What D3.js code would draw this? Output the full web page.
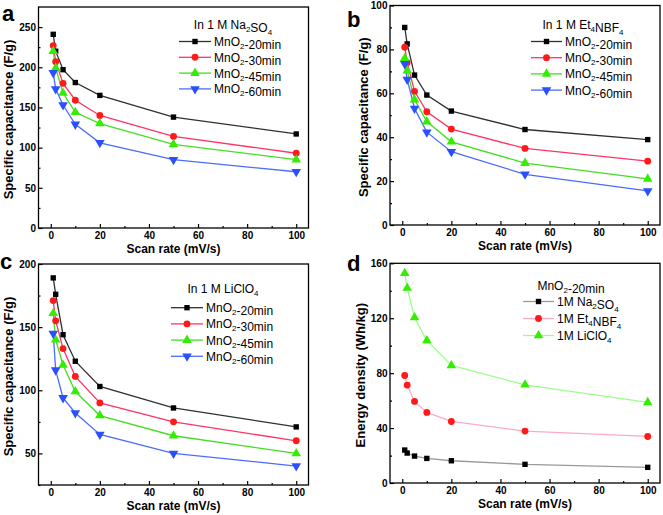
<!DOCTYPE html>
<html>
<head>
<meta charset="utf-8">
<script src="https://cdn.jsdelivr.net/npm/d3@7"></script>
<style>
  html, body { margin: 0; padding: 0; background: #fff; }
  svg { display: block; }
  text { font-family: "Liberation Sans", Arial, sans-serif; }
</style>
</head>
<body>
<svg id="chart" width="663" height="515"></svg>
<script>
// ---------------- DATA ----------------
const scanRates = [1, 2, 5, 10, 20, 50, 100];
const xTicks = [0, 20, 40, 60, 80, 100];
const sampleNames = ["MnO_2-20min", "MnO_2-30min", "MnO_2-45min", "MnO_2-60min"];

// (a) 1 M Na2SO4, specific capacitance (F/g)
const naso4_20 = [241, 220, 197, 181, 165, 138, 117];
const naso4_30 = [227, 207, 180, 159, 140, 114, 93];
const naso4_45 = [220, 199, 168, 144, 130, 104, 85];
const naso4_60 = [193, 173, 153, 129, 106, 85, 70];
const yTicksA = [0, 50, 100, 150, 200, 250];

// (b) 1 M Et4NBF4, specific capacitance (F/g)
const et4_20 = [90, 82.5, 68.3, 59.2, 51.9, 43.5, 38.9];
const et4_30 = [81, 74, 60.9, 51.6, 43.7, 34.9, 29.1];
const et4_45 = [76, 70.3, 57.1, 47.1, 37.9, 28.2, 21];
const et4_60 = [73.4, 66.3, 53.1, 42.3, 33.4, 23.1, 15.5];
const yTicksB = [0, 20, 40, 60, 80, 100];

// (c) 1 M LiClO4, specific capacitance (F/g)
const liclo4_20 = [189, 176, 144, 123, 103, 86, 71];
const liclo4_30 = [171, 155, 133, 111, 90, 75, 60];
const liclo4_45 = [161, 140, 120, 99, 80, 64, 50];
const liclo4_60 = [145, 116, 94, 82, 65, 50, 40];
const yTicksC = [50, 100, 150, 200];

// (d) MnO2-20min, energy density (Wh/kg)
const electrolyteNames = ["1M Na_2SO_4", "1M Et_4NBF_4", "1M LiClO_4"];
const energyNa = [24, 21.8, 19.6, 17.9, 16.2, 13.6, 11.4];
const energyEt = [78.3, 71.3, 59.4, 51.4, 44.8, 37.8, 33.9];
const energyLi = [152.7, 142, 120.5, 103.8, 85.6, 71.5, 58.7];
const yTicksD = [0, 40, 80, 120, 160];

// ---------------- STYLES ----------------
const markerColors = ["#000000", "#ff1a1a", "#33ee00", "#2a4fff"];
const lineColorsABC = ["#303030", "#ff3366", "#44dd22", "#4a6cff"];
const lineColorsD = ["#999999", "#ffa8c8", "#99ff88"];
const markerTypes = ["square", "circle", "triangle", "tridown"];

const svg = d3.select("#chart");

function addRich(textSel, str, subSize) {
  // "_x" => subscript char x
  let i = 0;
  let buf = "";
  const flush = () => { if (buf) { textSel.append("tspan").text(buf); buf = ""; } };
  while (i < str.length) {
    if (str[i] === "_" && i + 1 < str.length) {
      flush();
      textSel.append("tspan").attr("font-size", subSize).attr("dy", 3).text(str[i + 1]);
      textSel.append("tspan").attr("dy", -3).text("");
      i += 2;
    } else { buf += str[i]; i++; }
  }
  flush();
}

function drawMarker(g, type, cx, cy, color) {
  let sym, size, rot = 0;
  if (type === "square") { sym = d3.symbolSquare; size = 29; }
  else if (type === "circle") { sym = d3.symbolCircle; size = 37; }
  else if (type === "triangle") { sym = d3.symbolTriangle; size = 40; }
  else { sym = d3.symbolTriangle; size = 40; rot = 180; }
  g.append("path")
    .attr("d", d3.symbol().type(sym).size(size)())
    .attr("transform", `translate(${cx},${cy}) rotate(${rot})`)
    .attr("fill", color);
}

function panel(cfg) {
  const g = svg.append("g");
  const x = d3.scaleLinear().domain([-5, 105]).range([cfg.x0, cfg.x1]);
  const y = d3.scaleLinear().domain(cfg.yDomain).range([cfg.y1, cfg.y0]);

  // minor ticks
  const xMinor = d3.range(10, 100, 20);
  const yMinor = cfg.yMinor;
  g.append("g").attr("transform", `translate(0,${cfg.y1})`)
    .call(d3.axisBottom(x).tickValues(xMinor).tickSize(-2).tickSizeOuter(0).tickFormat(""))
    .call(s => s.select(".domain").remove())
    .call(s => s.selectAll("line").attr("stroke-width", 1.2));
  g.append("g").attr("transform", `translate(${cfg.x0},0)`)
    .call(d3.axisLeft(y).tickValues(yMinor).tickSize(-2).tickSizeOuter(0).tickFormat(""))
    .call(s => s.select(".domain").remove())
    .call(s => s.selectAll("line").attr("stroke-width", 1.2));

  // major ticks
  g.append("g").attr("transform", `translate(0,${cfg.y1})`)
    .call(d3.axisBottom(x).tickValues(xTicks).tickSize(-4).tickSizeOuter(0).tickPadding(3.5).tickFormat(d3.format("d")))
    .call(s => s.select(".domain").remove())
    .call(s => s.selectAll("line").attr("stroke-width", 1.2))
    .call(s => s.selectAll("text").attr("font-size", 10).attr("font-weight", "bold")
      .attr("font-family", '"Liberation Sans", Arial, sans-serif').attr("fill", "#000"));
  g.append("g").attr("transform", `translate(${cfg.x0},0)`)
    .call(d3.axisLeft(y).tickValues(cfg.yTicks).tickSize(-4).tickSizeOuter(0).tickPadding(2.5).tickFormat(d3.format("d")))
    .call(s => s.select(".domain").remove())
    .call(s => s.selectAll("line").attr("stroke-width", 1.2))
    .call(s => s.selectAll("text").attr("font-size", 10).attr("font-weight", "bold")
      .attr("font-family", '"Liberation Sans", Arial, sans-serif').attr("fill", "#000"));

  // frame
  g.append("rect")
    .attr("x", cfg.x0).attr("y", cfg.y0)
    .attr("width", cfg.x1 - cfg.x0).attr("height", cfg.y1 - cfg.y0)
    .attr("fill", "none").attr("stroke", "#000").attr("stroke-width", 1.3);

  // series
  const line = d3.line().x((d, i) => x(scanRates[i])).y(d => y(d));
  cfg.series.forEach((vals, k) => {
    g.append("path").datum(vals).attr("d", line)
      .attr("fill", "none").attr("stroke", cfg.lineColors[k]).attr("stroke-width", 1.3);
  });
  cfg.series.forEach((vals, k) => {
    vals.forEach((v, i) => drawMarker(g, markerTypes[k], x(scanRates[i]), y(v), markerColors[k]));
  });

  // axis labels
  g.append("text").attr("x", (cfg.x0 + cfg.x1) / 2).attr("y", cfg.y1 + 25)
    .attr("text-anchor", "middle").attr("font-size", 12).attr("font-weight", "bold")
    .text("Scan rate (mV/s)");
  g.append("text")
    .attr("transform", `translate(${cfg.yLabelX},${(cfg.y0 + cfg.y1) / 2 + 2}) rotate(-90)`)
    .attr("text-anchor", "middle").attr("font-size", 13).attr("font-weight", "bold")
    .text(cfg.yLabel);

  // panel letter
  g.append("text").attr("x", cfg.letterX).attr("y", cfg.letterY)
    .attr("font-size", 22).attr("font-weight", "bold").text(cfg.letter);

  // legend
  const L = cfg.legend;
  const title = g.append("text").attr("x", L.titleX).attr("y", L.titleY)
    .attr("text-anchor", "middle").attr("font-size", 12);
  addRich(title, L.title, 8);
  cfg.names.forEach((nm, k) => {
    const ly = L.rowY + k * L.rowStep;
    g.append("line").attr("x1", L.lineX0).attr("x2", L.lineX1).attr("y1", ly).attr("y2", ly)
      .attr("stroke", cfg.lineColors[k]).attr("stroke-width", 1.3);
    drawMarker(g, markerTypes[k], (L.lineX0 + L.lineX1) / 2, ly, markerColors[k]);
    const t = g.append("text").attr("x", L.lineX1 + 3).attr("y", ly + 4.5).attr("font-size", 12);
    addRich(t, nm, 8);
  });
}

panel({
  letter: "a", letterX: 2, letterY: 21,
  x0: 38.5, x1: 308.5, y0: 7, y1: 228,
  yDomain: [0, 275], yTicks: yTicksA, yMinor: d3.range(25, 275, 50),
  yLabel: "Specific capacitance (F/g)", yLabelX: 12.5,
  series: [naso4_20, naso4_30, naso4_45, naso4_60], names: sampleNames, lineColors: lineColorsABC,
  legend: { title: "In 1 M Na_2SO_4", titleX: 233, titleY: 28.5, rowY: 41.5, rowStep: 15.8, lineX0: 179, lineX1: 211 }
});

panel({
  letter: "b", letterX: 347, letterY: 27,
  x0: 390, x1: 660, y0: 5.5, y1: 225,
  yDomain: [0, 100], yTicks: yTicksB, yMinor: d3.range(10, 100, 20),
  yLabel: "Specific capacitance (F/g)", yLabelX: 367.5,
  series: [et4_20, et4_30, et4_45, et4_60], names: sampleNames, lineColors: lineColorsABC,
  legend: { title: "In 1 M Et_4NBF_4", titleX: 583, titleY: 28.5, rowY: 41.5, rowStep: 16.2, lineX0: 531, lineX1: 562 }
});

panel({
  letter: "c", letterX: 0, letterY: 269,
  x0: 38.5, x1: 308.5, y0: 264, y1: 485,
  yDomain: [25, 200], yTicks: yTicksC, yMinor: d3.range(25, 200, 50),
  yLabel: "Specific capacitance (F/g)", yLabelX: 12.5,
  series: [liclo4_20, liclo4_30, liclo4_45, liclo4_60], names: sampleNames, lineColors: lineColorsABC,
  legend: { title: "In 1 M LiClO_4", titleX: 223, titleY: 293, rowY: 307.7, rowStep: 16.2, lineX0: 171, lineX1: 203 }
});

panel({
  letter: "d", letterX: 347, letterY: 271,
  x0: 390, x1: 660, y0: 263.3, y1: 483,
  yDomain: [0, 160], yTicks: yTicksD, yMinor: d3.range(20, 160, 40),
  yLabel: "Energy density (Wh/kg)", yLabelX: 364.5,
  series: [energyNa, energyEt, energyLi], names: electrolyteNames, lineColors: lineColorsD,
  legend: { title: "MnO_2-20min", titleX: 571, titleY: 289.5, rowY: 301.5, rowStep: 17, lineX0: 523, lineX1: 554 }
});
</script>
</body>
</html>
